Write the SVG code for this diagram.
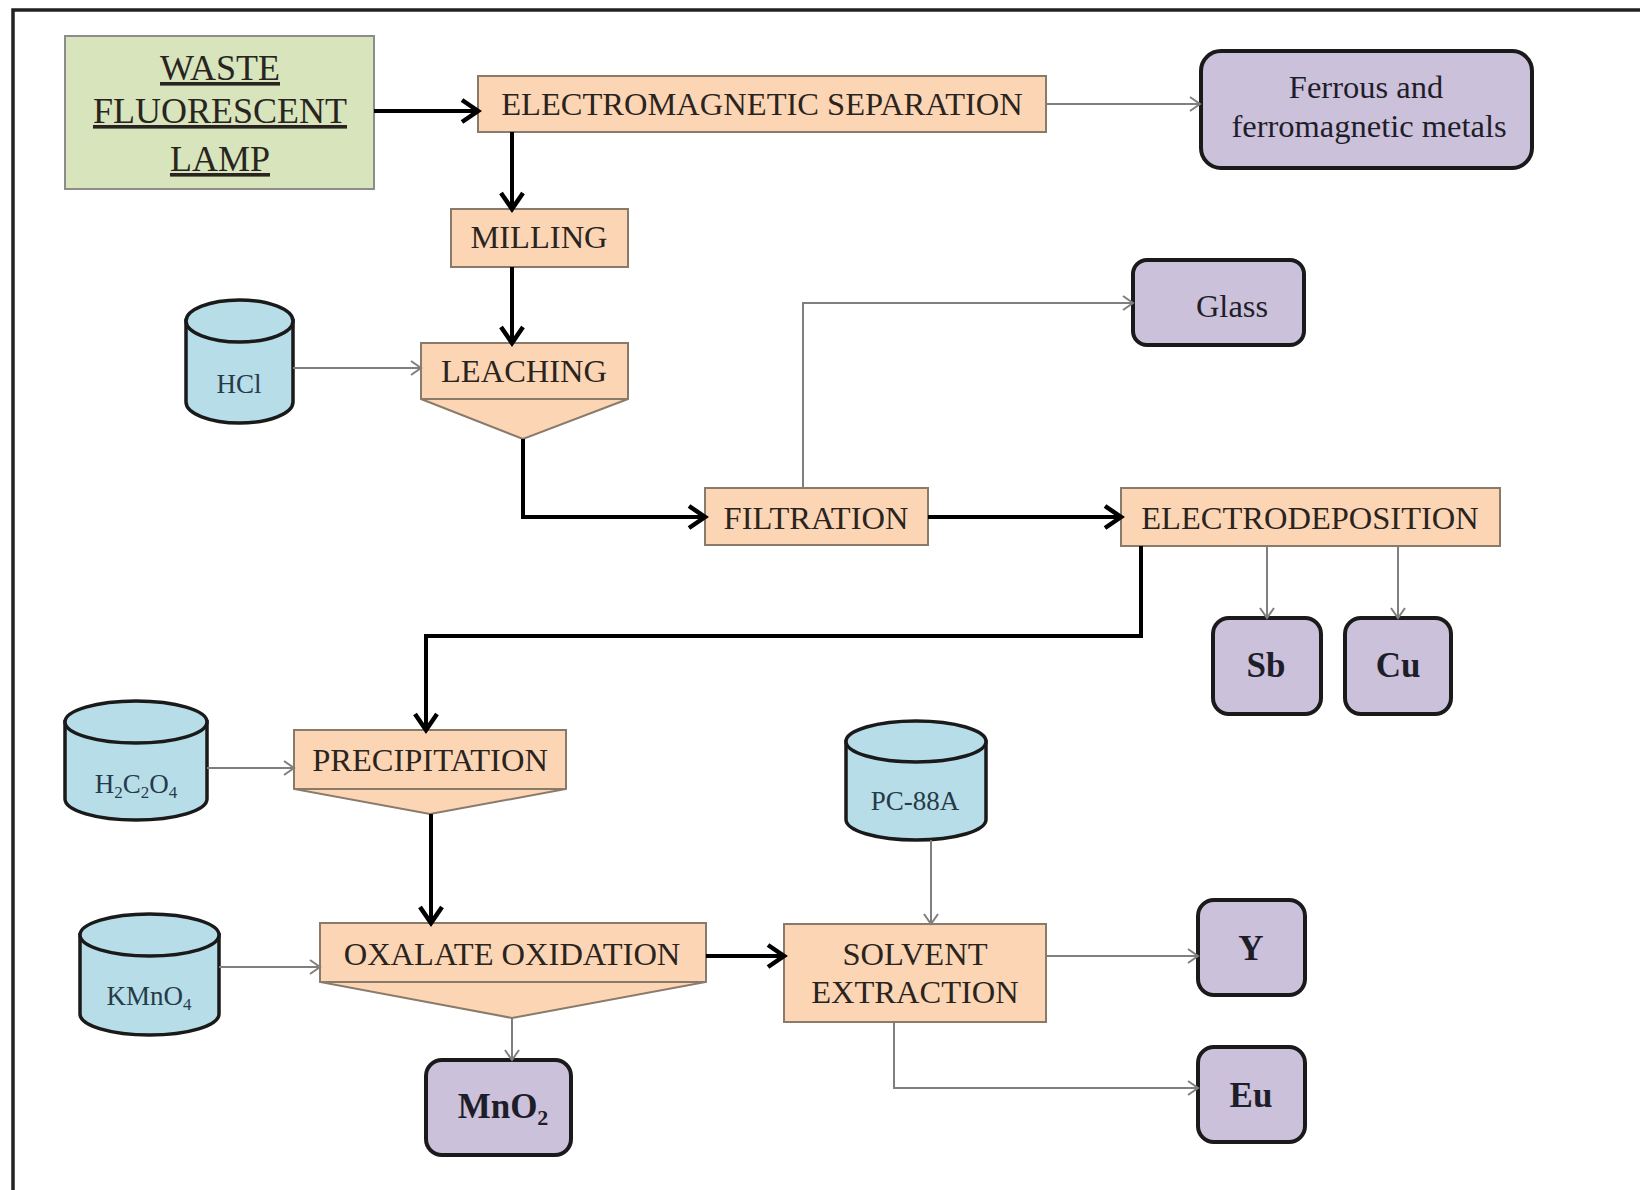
<svg xmlns="http://www.w3.org/2000/svg" width="1640" height="1190" viewBox="0 0 1640 1190">
<defs>
<style>
.proc{fill:#fcd5b4;stroke:#8a7a6a;stroke-width:2}
.start{fill:#d7e4bc;stroke:#8c8c8c;stroke-width:2}
.prod{fill:#ccc1da;stroke:#1a1a1a;stroke-width:4}
.cyl{fill:#b7dde8;stroke:#1a1a1a;stroke-width:3.5}
.t{font-family:"Liberation Serif","Times New Roman",serif;font-size:32.5px;fill:#2a2420;text-anchor:middle}
.big{font-size:36px;text-decoration:underline}
.pt{font-family:"Liberation Serif","Times New Roman",serif;font-size:32.5px;fill:#1e1e2a;text-anchor:middle}
.b{font-weight:bold;font-size:35px}
.ct{font-family:"Liberation Serif","Times New Roman",serif;font-size:27px;fill:#263a48;text-anchor:middle}
.thick{fill:none;stroke:#000;stroke-width:4}
.thin{fill:none;stroke:#7f7f7f;stroke-width:2}
</style>
<marker id="ah" markerUnits="userSpaceOnUse" markerWidth="30" markerHeight="30" refX="19" refY="13" orient="auto" overflow="visible">
<path d="M3,2 L19,13 L3,24" fill="none" stroke="#000" stroke-width="4.5"/>
</marker>
<marker id="ahs" markerUnits="userSpaceOnUse" markerWidth="20" markerHeight="20" refX="11" refY="8" orient="auto" overflow="visible">
<path d="M1,1 L11,8 L1,15" fill="none" stroke="#7f7f7f" stroke-width="2"/>
</marker>
</defs>
<rect width="1640" height="1190" fill="#fff"/>
<path d="M13,1195 V10 H1645" fill="none" stroke="#222" stroke-width="3.5"/>

<g id="waste">
<rect class="start" x="65" y="36" width="309" height="153"/>
<text class="t big" x="220" y="80">WASTE</text>
<text class="t big" x="220" y="123">FLUORESCENT</text>
<text class="t big" x="220" y="171">LAMP</text>
</g>
<g id="emsep">
<rect class="proc" x="478" y="76" width="568" height="56"/>
<text class="t" x="762" y="115">ELECTROMAGNETIC SEPARATION</text>
</g>
<g id="ferrous">
<rect class="prod" x="1201" y="51" width="331" height="117" rx="20"/>
<text class="pt" x="1366" y="98">Ferrous and</text>
<text class="pt" x="1369" y="137">ferromagnetic metals</text>
</g>
<g id="milling">
<rect class="proc" x="451" y="209" width="177" height="58"/>
<text class="t" x="539" y="248">MILLING</text>
</g>
<g id="hcl">
<path class="cyl" d="M186,321 V402 A53.5,21 0 0 0 293,402 V321 Z"/>
<ellipse class="cyl" cx="239.5" cy="321" rx="53.5" ry="21"/>
<text class="ct" x="239" y="393">HCl</text>
</g>
<g id="leaching">
<path class="proc" d="M421,343 H628 V399 L523,439 L421,399 Z"/>
<line x1="421" y1="399" x2="628" y2="399" stroke="#8a7a6a" stroke-width="2"/>
<text class="t" x="524" y="382">LEACHING</text>
</g>
<g id="glass">
<rect class="prod" x="1133" y="260" width="171" height="85" rx="14"/>
<text class="pt" x="1232" y="317">Glass</text>
</g>
<g id="filtration">
<rect class="proc" x="705" y="488" width="223" height="57"/>
<text class="t" x="816" y="529">FILTRATION</text>
</g>
<g id="electrodeposition">
<rect class="proc" x="1121" y="488" width="379" height="58"/>
<text class="t" x="1310" y="529">ELECTRODEPOSITION</text>
</g>
<g id="sb">
<rect class="prod" x="1213" y="618" width="108" height="96" rx="16"/>
<text class="pt b" x="1266" y="677">Sb</text>
</g>
<g id="cu">
<rect class="prod" x="1345" y="618" width="106" height="96" rx="16"/>
<text class="pt b" x="1398" y="677">Cu</text>
</g>
<g id="h2c2o4">
<path class="cyl" d="M65,722 V799 A71,21 0 0 0 207,799 V722 Z"/>
<ellipse class="cyl" cx="136" cy="722" rx="71" ry="21"/>
<text class="ct" x="136" y="793">H<tspan font-size="17" dy="5">2</tspan><tspan dy="-5">C</tspan><tspan font-size="17" dy="5">2</tspan><tspan dy="-5">O</tspan><tspan font-size="17" dy="5">4</tspan></text>
</g>
<g id="precipitation">
<path class="proc" d="M294,730 H566 V789 L430,814 L294,789 Z"/>
<line x1="294" y1="789" x2="566" y2="789" stroke="#8a7a6a" stroke-width="2"/>
<text class="t" x="430" y="771">PRECIPITATION</text>
</g>
<g id="pc88a">
<path class="cyl" d="M846,741.5 V819.5 A70,20.5 0 0 0 986,819.5 V741.5 Z"/>
<ellipse class="cyl" cx="916" cy="741.5" rx="70" ry="20.5"/>
<text class="ct" x="915" y="810">PC-88A</text>
</g>
<g id="kmno4">
<path class="cyl" d="M80,935 V1014 A69.5,21 0 0 0 219,1014 V935 Z"/>
<ellipse class="cyl" cx="149.5" cy="935" rx="69.5" ry="21"/>
<text class="ct" x="149" y="1005">KMnO<tspan font-size="17" dy="5">4</tspan></text>
</g>
<g id="oxalate">
<path class="proc" d="M320,923 H706 V982 L512,1018 L320,982 Z"/>
<line x1="320" y1="982" x2="706" y2="982" stroke="#8a7a6a" stroke-width="2"/>
<text class="t" x="512" y="965">OXALATE OXIDATION</text>
</g>
<g id="mno2">
<rect class="prod" x="426" y="1060" width="145" height="95" rx="16"/>
<text class="pt b" x="503" y="1118">MnO<tspan font-size="22" dy="7">2</tspan></text>
</g>
<g id="solvent">
<rect class="proc" x="784" y="924" width="262" height="98"/>
<text class="t" x="915" y="965">SOLVENT</text>
<text class="t" x="915" y="1003">EXTRACTION</text>
</g>
<g id="y">
<rect class="prod" x="1198" y="900" width="107" height="95" rx="16"/>
<text class="pt b" x="1251" y="960">Y</text>
</g>
<g id="eu">
<rect class="prod" x="1198" y="1047" width="107" height="95" rx="16"/>
<text class="pt b" x="1251" y="1107">Eu</text>
</g>

<g id="connectors">
<path class="thick" marker-end="url(#ah)" d="M374,111 H478"/>
<path class="thick" marker-end="url(#ah)" d="M512,132 V209"/>
<path class="thick" marker-end="url(#ah)" d="M512,267 V343"/>
<path class="thick" marker-end="url(#ah)" d="M523,439 V517 H705"/>
<path class="thick" marker-end="url(#ah)" d="M928,517 H1121"/>
<path class="thick" marker-end="url(#ah)" d="M1141,546 V636 H426 V730"/>
<path class="thick" marker-end="url(#ah)" d="M431,814 V923"/>
<path class="thick" marker-end="url(#ah)" d="M706,956 H784"/>
<path class="thin" marker-end="url(#ahs)" d="M1046,104 H1200"/>
<path class="thin" marker-end="url(#ahs)" d="M293,368 H421"/>
<path class="thin" marker-end="url(#ahs)" d="M803,488 V303 H1133"/>
<path class="thin" marker-end="url(#ahs)" d="M1267,546 V618"/>
<path class="thin" marker-end="url(#ahs)" d="M1398,546 V618"/>
<path class="thin" marker-end="url(#ahs)" d="M207,768 H294"/>
<path class="thin" marker-end="url(#ahs)" d="M219,967 H320"/>
<path class="thin" marker-end="url(#ahs)" d="M512,1018 V1060"/>
<path class="thin" marker-end="url(#ahs)" d="M931,840 V924"/>
<path class="thin" marker-end="url(#ahs)" d="M1046,956 H1198"/>
<path class="thin" marker-end="url(#ahs)" d="M894,1022 V1088 H1198"/>
</g>
</svg>
